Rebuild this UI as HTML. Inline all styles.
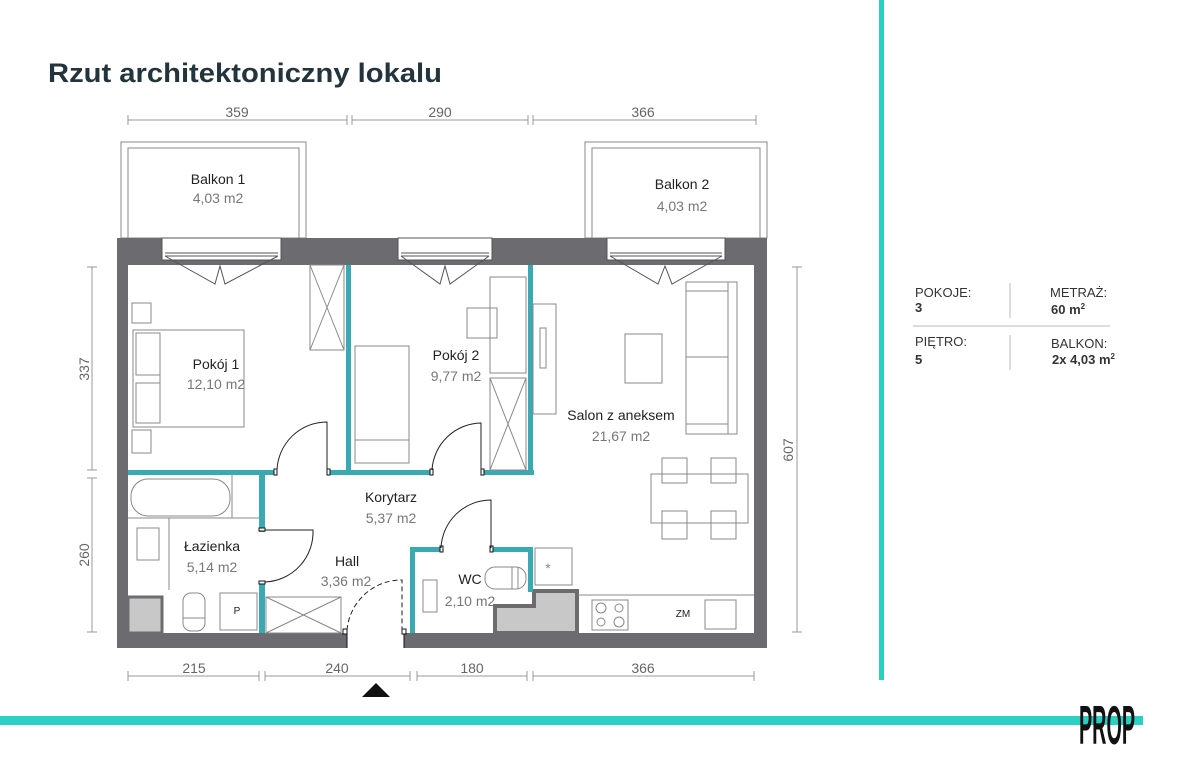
<!DOCTYPE html>
<html><head><meta charset="utf-8"><style>
html,body{margin:0;padding:0;background:#fff;}
svg{display:block;}
text{font-family:"Liberation Sans",sans-serif;}
</style></head><body>
<svg width="1200" height="779" viewBox="0 0 1200 779" xmlns="http://www.w3.org/2000/svg">
<rect width="1200" height="779" fill="#fff"/>
<text x="48" y="82" font-size="27" font-weight="bold" fill="#24343d" textLength="394" lengthAdjust="spacingAndGlyphs">Rzut architektoniczny  lokalu</text>

<!-- teal accents -->
<rect x="879" y="0" width="5" height="680" fill="#2ccfc4"/>
<rect x="0" y="716" width="1143" height="9" fill="#2ccfc4"/>
<text transform="translate(1079,744) scale(1,1.45)" font-size="38" font-weight="bold" fill="#111" textLength="56" lengthAdjust="spacingAndGlyphs">PROP</text>

<!-- info panel -->
<g font-size="13" fill="#333">
<text x="915" y="297">POKOJE:</text>
<text x="915" y="312" font-weight="bold">3</text>
<text x="1050" y="297">METRAŻ:</text>
<text x="1051" y="314" font-weight="bold">60 m<tspan font-size="8" dy="-5">2</tspan></text>
<text x="915" y="346">PIĘTRO:</text>
<text x="915" y="364" font-weight="bold">5</text>
<text x="1051" y="348">BALKON:</text>
<text x="1052" y="364" font-weight="bold">2x 4,03 m<tspan font-size="8" dy="-5">2</tspan></text>
</g>
<line x1="1010" y1="283" x2="1010" y2="318" stroke="#bbb"/>
<line x1="1010" y1="335" x2="1010" y2="370" stroke="#bbb"/>
<line x1="913" y1="326" x2="1110" y2="326" stroke="#bbb"/>

<!-- dimension lines -->
<g stroke="#999" stroke-width="1" fill="none">
<line x1="128" y1="120" x2="347" y2="120"/><line x1="352" y1="120" x2="528" y2="120"/><line x1="533" y1="120" x2="756" y2="120"/>
<line x1="128" y1="115" x2="128" y2="125"/><line x1="347" y1="115" x2="347" y2="125"/><line x1="352" y1="115" x2="352" y2="125"/><line x1="528" y1="115" x2="528" y2="125"/><line x1="533" y1="115" x2="533" y2="125"/><line x1="756" y1="115" x2="756" y2="125"/>
<line x1="92" y1="267" x2="92" y2="470"/><line x1="92" y1="478" x2="92" y2="632"/>
<line x1="87" y1="267" x2="97" y2="267"/><line x1="87" y1="470" x2="97" y2="470"/><line x1="87" y1="478" x2="97" y2="478"/><line x1="87" y1="632" x2="97" y2="632"/>
<line x1="797" y1="267" x2="797" y2="632"/><line x1="792" y1="267" x2="802" y2="267"/><line x1="792" y1="632" x2="802" y2="632"/>
<line x1="128" y1="676" x2="259" y2="676"/><line x1="265" y1="676" x2="410" y2="676"/><line x1="417" y1="676" x2="527" y2="676"/><line x1="533" y1="676" x2="754" y2="676"/>
<line x1="128" y1="671" x2="128" y2="681"/><line x1="259" y1="671" x2="259" y2="681"/><line x1="265" y1="671" x2="265" y2="681"/><line x1="410" y1="671" x2="410" y2="681"/><line x1="417" y1="671" x2="417" y2="681"/><line x1="527" y1="671" x2="527" y2="681"/><line x1="533" y1="671" x2="533" y2="681"/><line x1="754" y1="671" x2="754" y2="681"/>
</g>
<g font-size="14" fill="#666" text-anchor="middle">
<text x="237" y="117">359</text><text x="440" y="117">290</text><text x="643" y="117">366</text>
<text x="194" y="673">215</text><text x="337" y="673">240</text><text x="472" y="673">180</text><text x="643" y="673">366</text>
<text transform="translate(89,369) rotate(-90)">337</text>
<text transform="translate(89,555) rotate(-90)">260</text>
<text transform="translate(793,450) rotate(-90)">607</text>
</g>
<polygon points="362,697 390,697 376,683" fill="#111"/>

<!-- balconies -->
<g fill="none" stroke="#888" stroke-width="1">
<rect x="121" y="142" width="185" height="96"/><rect x="128" y="148" width="171" height="90"/>
<rect x="585" y="142" width="182" height="96"/><rect x="592" y="148" width="168" height="90"/>
</g>
<g font-size="14" text-anchor="middle">
<text x="218" y="184" fill="#222">Balkon 1</text><text x="218" y="203" fill="#777">4,03 m2</text>
<text x="682" y="189" fill="#222">Balkon 2</text><text x="682" y="211" fill="#777">4,03 m2</text>
</g>

<!-- outer walls -->
<g fill="#6b6b70">
<rect x="117" y="238" width="650" height="27"/>
<rect x="117" y="238" width="11" height="410"/>
<rect x="754" y="238" width="13" height="410"/>
<rect x="117" y="633" width="650" height="15"/>
</g>
<!-- windows -->
<g fill="#fff" stroke="#555" stroke-width="1">
<rect x="162" y="238" width="119" height="22"/><rect x="398" y="238" width="94" height="22"/><rect x="607" y="238" width="118" height="22"/>
</g>
<g stroke="#555" stroke-width="1" fill="none">
<line x1="165" y1="253" x2="278" y2="253"/><line x1="165" y1="256" x2="278" y2="256"/>
<polyline points="165,256 215,284 220,266 225,284 278,256"/>
<line x1="401" y1="253" x2="489" y2="253"/><line x1="401" y1="256" x2="489" y2="256"/>
<polyline points="401,256 440,284 445,266 450,284 489,256"/>
<line x1="610" y1="253" x2="722" y2="253"/><line x1="610" y1="256" x2="722" y2="256"/>
<polyline points="610,256 658,284 665,266 672,284 722,256"/>
</g>
<!-- entrance gap -->
<rect x="347" y="633" width="57" height="15" fill="#fff"/>
<line x1="347" y1="633" x2="347" y2="648" stroke="#111"/><line x1="404" y1="633" x2="404" y2="648" stroke="#111"/>

<!-- grey blocks -->
<rect x="128" y="597" width="34" height="36" fill="#c8c8c8" stroke="#6b6b70" stroke-width="3"/>
<polygon points="495,606 534,606 534,591 577,591 577,633 495,633" fill="#c8c8c8" stroke="#6b6b70" stroke-width="4"/>

<!-- teal walls -->
<g fill="#3aa9b2">
<rect x="346" y="265" width="5" height="208"/>
<rect x="128" y="470" width="148" height="5"/>
<rect x="328" y="470" width="104" height="5"/>
<rect x="483" y="470" width="51" height="5"/>
<rect x="528" y="265" width="5" height="210"/>
<rect x="259" y="470" width="6" height="62"/>
<rect x="259" y="582" width="6" height="51"/>
<rect x="410" y="547" width="5" height="86"/>
<rect x="410" y="547" width="32" height="5"/>
<rect x="491" y="547" width="42" height="5"/>
<rect x="528" y="547" width="5" height="45"/>
</g>
<!-- door jamb markers -->
<g fill="#fff" stroke="#111" stroke-width="1">
<rect x="274" y="469" width="3" height="6"/><rect x="327" y="469" width="3" height="6"/>
<rect x="430" y="469" width="3" height="6"/><rect x="481" y="469" width="3" height="6"/>
<rect x="259" y="528" width="6" height="3"/><rect x="259" y="581" width="6" height="3"/>
<rect x="440" y="546" width="3" height="6"/><rect x="490" y="546" width="3" height="6"/>
<rect x="343" y="629" width="4" height="5"/><rect x="402" y="629" width="4" height="5"/>
</g>
<!-- door arcs -->
<g stroke="#222" stroke-width="1" fill="none">
<path d="M277,470 A50,50 0 0 1 327,422 L327,470"/>
<path d="M432,470 A50,50 0 0 1 481,423 L481,470"/>
<path d="M441,548 A50,50 0 0 1 491,500 L491,548"/>
<path d="M265,530 L313,530 A50,50 0 0 1 265,582"/>
<path d="M347,630 A55,55 0 0 1 399,580 L402,580 L402,630" stroke-dasharray="5,3"/>
</g>

<!-- furniture -->
<g stroke="#888" stroke-width="1" fill="none">
<rect x="132" y="303" width="19" height="20"/><rect x="132" y="430" width="19" height="23"/>
<rect x="133" y="330" width="111" height="97"/><rect x="136" y="333" width="24" height="42"/><rect x="136" y="383" width="24" height="40"/>
<line x1="160" y1="342" x2="160" y2="418"/>
<rect x="310" y="265" width="34" height="85"/><line x1="310" y1="265" x2="344" y2="350"/><line x1="344" y1="265" x2="310" y2="350"/>
<rect x="355" y="346" width="54" height="117"/><line x1="355" y1="440" x2="409" y2="440"/>
<rect x="467" y="308" width="30" height="30"/>
<rect x="490" y="277" width="36" height="96"/>
<rect x="490" y="378" width="36" height="92"/><line x1="490" y1="378" x2="526" y2="470"/><line x1="526" y1="378" x2="490" y2="470"/>
<rect x="533" y="304" width="23" height="110"/><rect x="540" y="328" width="6" height="40"/>
<rect x="686" y="282" width="51" height="152"/><line x1="686" y1="291" x2="728" y2="291"/><line x1="728" y1="282" x2="728" y2="434"/><line x1="686" y1="357" x2="728" y2="357"/><line x1="686" y1="424" x2="728" y2="424"/>
<rect x="625" y="334" width="37" height="49"/>
<rect x="651" y="474" width="97" height="49"/>
<rect x="662" y="458" width="25" height="25"/><rect x="711" y="458" width="25" height="25"/>
<rect x="662" y="511" width="25" height="28"/><rect x="711" y="511" width="25" height="28"/>
<line x1="578" y1="595" x2="754" y2="595"/>
<rect x="592" y="600" width="36" height="30"/>
<circle cx="601" cy="608" r="5"/><circle cx="619" cy="608" r="4"/><circle cx="601" cy="622" r="4"/><circle cx="619" cy="622" r="5"/>
<rect x="705" y="600" width="31" height="29"/>
<rect x="535" y="548" width="37" height="37"/>
<rect x="485" y="567" width="41" height="22" rx="10"/><line x1="512" y1="567" x2="512" y2="589"/><line x1="518" y1="567" x2="518" y2="589"/>
<rect x="423" y="580" width="14" height="32"/>
<rect x="131" y="479" width="99" height="37" rx="17"/><line x1="232" y1="475" x2="232" y2="518"/><line x1="128" y1="518" x2="259" y2="518"/><line x1="169" y1="518" x2="169" y2="590"/>
<rect x="137" y="528" width="22" height="32"/>
<rect x="183" y="593" width="22" height="38" rx="8"/><line x1="183" y1="618" x2="205" y2="618"/>
<rect x="220" y="593" width="37" height="37"/>
<rect x="266" y="597" width="75" height="36"/><line x1="266" y1="597" x2="341" y2="633"/><line x1="341" y1="597" x2="266" y2="633"/>
</g>
<text x="548" y="573" font-size="14" fill="#888" text-anchor="middle">*</text>
<text x="237" y="614" font-size="10" fill="#222" text-anchor="middle">P</text>
<text x="683" y="617" font-size="10" fill="#222" text-anchor="middle">ZM</text>

<!-- room labels -->
<g font-size="14" text-anchor="middle">
<text x="216" y="369" fill="#222">Pokój 1</text><text x="216" y="389" fill="#777">12,10 m2</text>
<text x="456" y="360" fill="#222">Pokój 2</text><text x="456" y="381" fill="#777">9,77 m2</text>
<text x="621" y="420" fill="#222">Salon z aneksem</text><text x="621" y="441" fill="#777">21,67 m2</text>
<text x="391" y="502" fill="#222">Korytarz</text><text x="391" y="523" fill="#777">5,37 m2</text>
<text x="212" y="551" fill="#222">Łazienka</text><text x="212" y="572" fill="#777">5,14 m2</text>
<text x="347" y="566" fill="#222">Hall</text><text x="346" y="586" fill="#777">3,36 m2</text>
<text x="470" y="584" fill="#222">WC</text><text x="470" y="606" fill="#777">2,10 m2</text>
</g>
</svg>
</body></html>
